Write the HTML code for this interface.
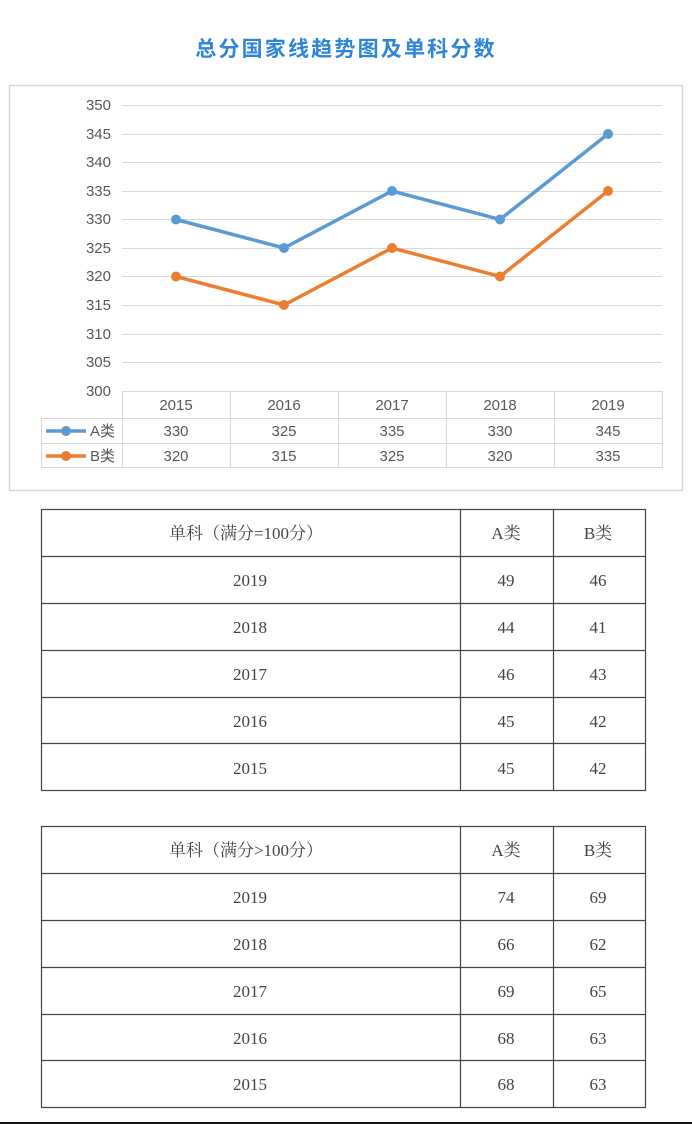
<!DOCTYPE html>
<html><head><meta charset="utf-8"><style>
body{margin:0;background:#fff;width:692px;height:1124px;overflow:hidden;position:relative}
svg{position:absolute;left:0;top:0}
.t{font-family:"Liberation Sans","Noto Sans CJK SC",sans-serif;font-size:15px;fill:#595959}
.s{font-family:"Liberation Serif","Noto Serif CJK SC",serif;font-size:17px;fill:#444}
</style></head><body>
<svg width="692" height="1124" viewBox="0 0 692 1124">
<text x="346" y="56" text-anchor="middle" font-family="Liberation Sans,'Noto Sans CJK SC',sans-serif" font-size="21" font-weight="bold" fill="#2f86d8" letter-spacing="2.2">总分国家线趋势图及单科分数</text>
<rect x="9.5" y="85.5" width="673" height="405" fill="#fff" stroke="#d9d9d9" stroke-width="1.5"/>
<g stroke="#d9d9d9" stroke-width="1">
<line x1="122" x2="662" y1="105.5" y2="105.5"/><line x1="122" x2="662" y1="134.5" y2="134.5"/><line x1="122" x2="662" y1="162.5" y2="162.5"/><line x1="122" x2="662" y1="191.5" y2="191.5"/><line x1="122" x2="662" y1="219.5" y2="219.5"/><line x1="122" x2="662" y1="248.5" y2="248.5"/><line x1="122" x2="662" y1="276.5" y2="276.5"/><line x1="122" x2="662" y1="305.5" y2="305.5"/><line x1="122" x2="662" y1="334.5" y2="334.5"/><line x1="122" x2="662" y1="362.5" y2="362.5"/>
<rect x="122.5" y="391.5" width="540" height="76" fill="none"/>
<line x1="41" x2="662" y1="418.5" y2="418.5"/><line x1="41" x2="662" y1="443.5" y2="443.5"/>
<line x1="41.5" x2="41.5" y1="418" y2="468"/><line x1="41" x2="122" y1="467.5" y2="467.5"/>
<line x1="230.5" x2="230.5" y1="391" y2="468"/><line x1="338.5" x2="338.5" y1="391" y2="468"/><line x1="446.5" x2="446.5" y1="391" y2="468"/><line x1="554.5" x2="554.5" y1="391" y2="468"/>
</g>
<g class="t" text-anchor="end">
<text x="111" y="110">350</text><text x="111" y="139">345</text><text x="111" y="167">340</text><text x="111" y="196">335</text><text x="111" y="224">330</text><text x="111" y="253">325</text><text x="111" y="281">320</text><text x="111" y="310">315</text><text x="111" y="339">310</text><text x="111" y="367">305</text><text x="111" y="396">300</text>
</g>
<g class="t" text-anchor="middle">
<text x="176" y="410">2015</text><text x="284" y="410">2016</text><text x="392" y="410">2017</text><text x="500" y="410">2018</text><text x="608" y="410">2019</text>
<text x="176" y="436">330</text><text x="284" y="436">325</text><text x="392" y="436">335</text><text x="500" y="436">330</text><text x="608" y="436">345</text>
<text x="176" y="461">320</text><text x="284" y="461">315</text><text x="392" y="461">325</text><text x="500" y="461">320</text><text x="608" y="461">335</text>
</g>
<polyline points="176,219.5 284,248 392,191 500,219.5 608,134" fill="none" stroke="#5b9bd5" stroke-width="3.5"/>
<polyline points="176,276.5 284,305 392,248 500,276.5 608,191" fill="none" stroke="#ed7d31" stroke-width="3.5"/>
<g fill="#5b9bd5"><circle cx="176" cy="219.5" r="5"/><circle cx="284" cy="248" r="5"/><circle cx="392" cy="191" r="5"/><circle cx="500" cy="219.5" r="5"/><circle cx="608" cy="134" r="5"/></g>
<g fill="#ed7d31"><circle cx="176" cy="276.5" r="5"/><circle cx="284" cy="305" r="5"/><circle cx="392" cy="248" r="5"/><circle cx="500" cy="276.5" r="5"/><circle cx="608" cy="191" r="5"/></g>
<line x1="46" x2="86" y1="431" y2="431" stroke="#5b9bd5" stroke-width="3.5"/><circle cx="66" cy="431" r="5" fill="#5b9bd5"/>
<line x1="46" x2="86" y1="456" y2="456" stroke="#ed7d31" stroke-width="3.5"/><circle cx="66" cy="456" r="5" fill="#ed7d31"/>
<text class="t" x="90" y="436">A类</text><text class="t" x="90" y="461">B类</text>

<g fill="none" stroke="#444" stroke-width="1.2">
<rect x="41.5" y="509.5" width="604" height="281"/>
<line x1="41" x2="646" y1="556.5" y2="556.5"/><line x1="41" x2="646" y1="603.5" y2="603.5"/><line x1="41" x2="646" y1="650.5" y2="650.5"/><line x1="41" x2="646" y1="697.5" y2="697.5"/><line x1="41" x2="646" y1="743.5" y2="743.5"/>
<line x1="460.5" x2="460.5" y1="509" y2="791"/><line x1="553.5" x2="553.5" y1="509" y2="791"/>
<rect x="41.5" y="826.5" width="604" height="281"/>
<line x1="41" x2="646" y1="873.5" y2="873.5"/><line x1="41" x2="646" y1="920.5" y2="920.5"/><line x1="41" x2="646" y1="967.5" y2="967.5"/><line x1="41" x2="646" y1="1014.5" y2="1014.5"/><line x1="41" x2="646" y1="1060.5" y2="1060.5"/>
<line x1="460.5" x2="460.5" y1="826" y2="1108"/><line x1="553.5" x2="553.5" y1="826" y2="1108"/>
</g>
<g class="s" text-anchor="middle">
<text x="246" y="539">单科（满分=100分）</text><text x="506" y="539">A类</text><text x="598" y="539">B类</text>
<text x="250" y="586">2019</text><text x="506" y="586">49</text><text x="598" y="586">46</text>
<text x="250" y="633">2018</text><text x="506" y="633">44</text><text x="598" y="633">41</text>
<text x="250" y="680">2017</text><text x="506" y="680">46</text><text x="598" y="680">43</text>
<text x="250" y="727">2016</text><text x="506" y="727">45</text><text x="598" y="727">42</text>
<text x="250" y="774">2015</text><text x="506" y="774">45</text><text x="598" y="774">42</text>
<text x="246" y="856">单科（满分&gt;100分）</text><text x="506" y="856">A类</text><text x="598" y="856">B类</text>
<text x="250" y="903">2019</text><text x="506" y="903">74</text><text x="598" y="903">69</text>
<text x="250" y="950">2018</text><text x="506" y="950">66</text><text x="598" y="950">62</text>
<text x="250" y="997">2017</text><text x="506" y="997">69</text><text x="598" y="997">65</text>
<text x="250" y="1044">2016</text><text x="506" y="1044">68</text><text x="598" y="1044">63</text>
<text x="250" y="1090">2015</text><text x="506" y="1090">68</text><text x="598" y="1090">63</text>
</g>
<rect x="0" y="1122" width="692" height="2" fill="#111"/>
</svg>
</body></html>
